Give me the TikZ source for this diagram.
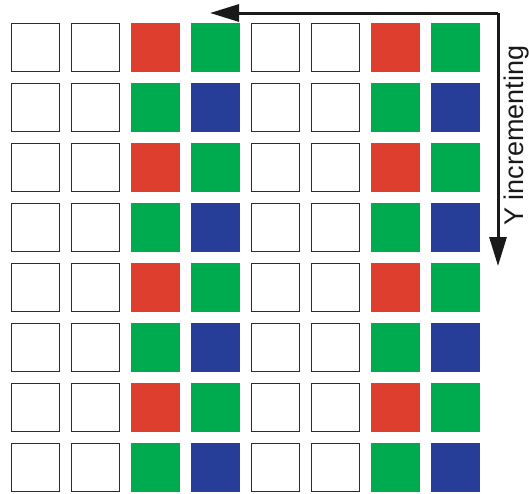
\documentclass[tikz,border=0pt]{standalone}
\usepackage{fontspec}
\setmainfont{Liberation Sans}
\usetikzlibrary{arrows.meta}
\definecolor{pxred}{RGB}{222,62,46}
\definecolor{pxgreen}{RGB}{0,170,79}
\definecolor{pxblue}{RGB}{38,62,152}
\definecolor{pxedge}{RGB}{45,45,45}
\tikzset{
  pixel/.style={rectangle,minimum size=49pt,inner sep=0pt,outer sep=0pt,anchor=north west},
  blank/.style={pixel,draw=pxedge,line width=1.1pt,fill=white,minimum size=48pt},
  redpx/.style={pixel,fill=pxred},
  greenpx/.style={pixel,fill=pxgreen},
  bluepx/.style={pixel,fill=pxblue},
  axis/.style={line width=3pt,draw=black!90,-{Triangle[length=29pt,width=17pt]}},
  axislabel/.style={font=\fontsize{27}{32}\selectfont,text=black!90,rotate=90,anchor=base west,inner sep=0pt}
}
\begin{document}
\begin{tikzpicture}[x=1pt,y=-1pt]
\useasboundingbox (0,0) rectangle (529,493);
\foreach \r in {0,...,7}{
  \foreach \c in {0,...,7}{
    \pgfmathtruncatemacro{\cm}{mod(\c,4)}
    \pgfmathtruncatemacro{\rm}{mod(\r,2)}
    \ifnum\cm<2
      \node[blank] (p\r\c) at ({11.5+60*\c},{23.5+60*\r}) {};
    \else
      \ifnum\cm=2
        \ifnum\rm=0
          \node[redpx] (p\r\c) at ({11+60*\c},{23+60*\r}) {};
        \else
          \node[greenpx] (p\r\c) at ({11+60*\c},{23+60*\r}) {};
        \fi
      \else
        \ifnum\rm=0
          \node[greenpx] (p\r\c) at ({11+60*\c},{23+60*\r}) {};
        \else
          \node[bluepx] (p\r\c) at ({11+60*\c},{23+60*\r}) {};
        \fi
      \fi
    \fi
  }
}
\coordinate (corner) at (498,13);
\coordinate (xend) at (210,13);
\coordinate (yend) at (498,266);
\draw[axis] (corner) -- (xend);
\draw[axis] (corner) -- (yend);
\node[axislabel] (ylab) at (523,226) {Y incrementing};
\end{tikzpicture}
\end{document}
